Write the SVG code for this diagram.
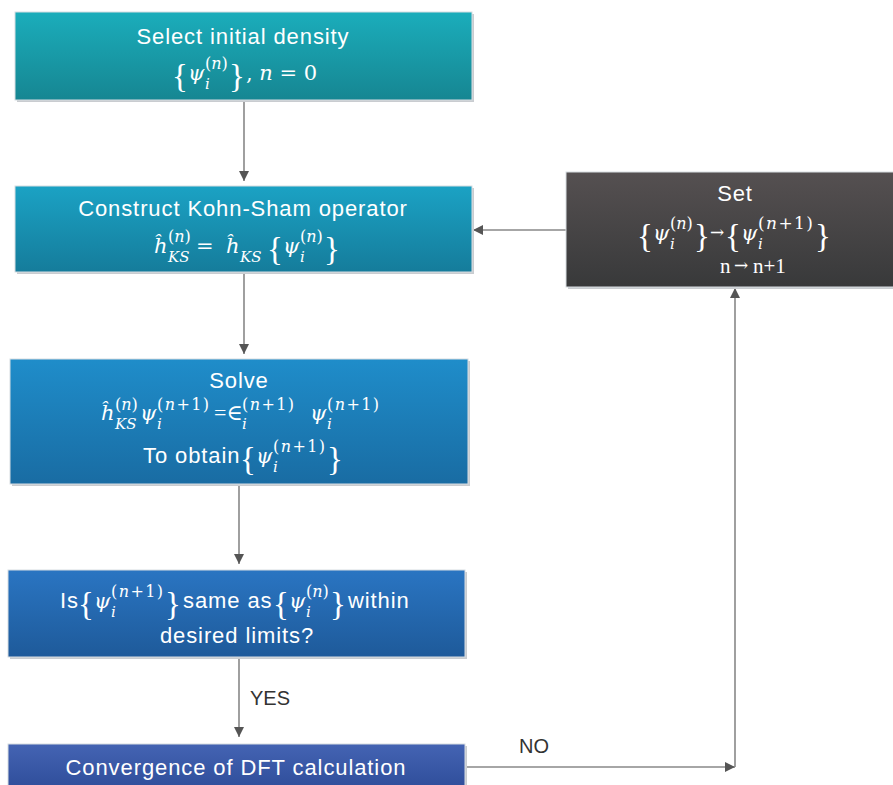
<svg xmlns="http://www.w3.org/2000/svg" width="893" height="785" viewBox="0 0 893 785">
<defs>
<linearGradient id="g1" x1="0" y1="0" x2="0" y2="1"><stop offset="0" stop-color="#1badbb"/><stop offset="1" stop-color="#168692"/></linearGradient>
<linearGradient id="g2" x1="0" y1="0" x2="0" y2="1"><stop offset="0" stop-color="#1ba2c4"/><stop offset="1" stop-color="#157c9b"/></linearGradient>
<linearGradient id="g3" x1="0" y1="0" x2="0" y2="1"><stop offset="0" stop-color="#1f8dca"/><stop offset="1" stop-color="#196ca3"/></linearGradient>
<linearGradient id="g4" x1="0" y1="0" x2="0" y2="1"><stop offset="0" stop-color="#2a75c2"/><stop offset="1" stop-color="#1e5a9a"/></linearGradient>
<linearGradient id="g5" x1="0" y1="0" x2="0" y2="1"><stop offset="0" stop-color="#4464b3"/><stop offset="1" stop-color="#2f4d9a"/></linearGradient>
<linearGradient id="g6" x1="0" y1="0" x2="0" y2="1"><stop offset="0" stop-color="#555051"/><stop offset="1" stop-color="#38393a"/></linearGradient>
<marker id="ah" viewBox="0 0 10 10" refX="10" refY="5" markerWidth="10" markerHeight="10" markerUnits="userSpaceOnUse" orient="auto"><path d="M0,0 L10,5 L0,10 z" fill="#555"/></marker>
</defs>
<style>
.box{stroke:#d8dde2;stroke-width:1}
.sh{fill:#c9ccd0}
.t{font-family:"Liberation Sans",Arial,sans-serif;font-size:22px;letter-spacing:0.9px;fill:#fff}
.m{font-family:"DejaVu Serif","Liberation Serif",serif;font-style:italic;font-size:21px;fill:#fff}
.u{font-style:normal}
.s{font-style:normal;font-size:16px}
.p1{letter-spacing:1.4px}
.si{font-style:italic;font-size:15px}
.br{font-family:"Liberation Serif","DejaVu Serif",serif;font-style:normal;font-size:33px}
.eq{font-family:"Liberation Serif","DejaVu Serif",serif;font-style:normal;font-size:22px}
.i{font-style:italic}
.lbl{font-family:"Liberation Sans",Arial,sans-serif;font-size:20px;fill:#333}
.c{fill:none;stroke:#888;stroke-width:1.6}
</style>

<g id="connectors">
<line class="c" x1="244" y1="100" x2="244" y2="181" marker-end="url(#ah)"/>
<line class="c" x1="244" y1="273" x2="244" y2="354" marker-end="url(#ah)"/>
<line class="c" x1="239" y1="484" x2="239" y2="564" marker-end="url(#ah)"/>
<line class="c" x1="239" y1="658" x2="239" y2="737" marker-end="url(#ah)"/>
<line class="c" x1="566" y1="230" x2="473" y2="230" marker-end="url(#ah)"/>
<line class="c" x1="465" y1="767" x2="735" y2="767" marker-end="url(#ah)"/>
<line class="c" x1="735" y1="767" x2="735" y2="288" marker-end="url(#ah)"/>
<text class="lbl" x="250" y="705">YES</text>
<text class="lbl" x="519" y="753">NO</text>
</g>

<g id="n1">
<rect class="sh" x="17" y="14" width="457" height="88"/>
<rect class="box" x="15" y="12" width="457" height="88" fill="url(#g1)"/>
<text class="t" x="243" y="44" text-anchor="middle">Select initial density</text>
<text class="m"><tspan class="br" x="172" y="87">{</tspan><tspan x="188" y="80">ψ</tspan><tspan class="s" x="205" y="69">(<tspan class="i">n</tspan>)</tspan><tspan class="si" x="205" y="89">i</tspan><tspan class="br" x="229" y="87">}</tspan><tspan class="u" x="246" y="80">, <tspan class="i">n</tspan> = 0</tspan></text>
</g>

<g id="n2">
<rect class="sh" x="17" y="188" width="457" height="86"/>
<rect class="box" x="15" y="186" width="457" height="86" fill="url(#g2)"/>
<text class="t" x="243" y="216" text-anchor="middle">Construct Kohn-Sham operator</text>
<text class="m"><tspan x="154" y="253">ĥ</tspan><tspan class="s" x="168" y="242">(<tspan class="i">n</tspan>)</tspan><tspan class="si" x="168" y="262">KS</tspan><tspan class="u" x="196" y="253">=</tspan><tspan x="226" y="253">ĥ</tspan><tspan class="si" x="240" y="262">KS</tspan><tspan class="br" x="267" y="260">{</tspan><tspan x="283" y="253">ψ</tspan><tspan class="s" x="300" y="242">(<tspan class="i">n</tspan>)</tspan><tspan class="si" x="300" y="262">i</tspan><tspan class="br" x="324" y="260">}</tspan></text>
</g>

<g id="n3">
<rect class="sh" x="12" y="361" width="458" height="125"/>
<rect class="box" x="10" y="359" width="458" height="125" fill="url(#g3)"/>
<text class="t" x="239" y="388" text-anchor="middle">Solve</text>
<text class="m"><tspan x="101" y="420">ĥ</tspan><tspan class="s" x="115" y="410">(<tspan class="i">n</tspan>)</tspan><tspan class="si" x="115" y="429">KS</tspan><tspan x="140" y="420">ψ</tspan><tspan class="s p1" x="157" y="410">(<tspan class="i">n</tspan>+1)</tspan><tspan class="si" x="157" y="429">i</tspan><tspan class="eq" x="214" y="420">=∈</tspan><tspan class="s p1" x="242" y="410">(<tspan class="i">n</tspan>+1)</tspan><tspan class="si" x="242" y="429">i</tspan><tspan x="310" y="420">ψ</tspan><tspan class="s p1" x="327" y="410">(<tspan class="i">n</tspan>+1)</tspan><tspan class="si" x="327" y="429">i</tspan></text>
<text class="t" x="143" y="463">To obtain</text>
<text class="m"><tspan class="br" x="240" y="470">{</tspan><tspan x="256" y="463">ψ</tspan><tspan class="s p1" x="273" y="452">(<tspan class="i">n</tspan>+1)</tspan><tspan class="si" x="273" y="472">i</tspan><tspan class="br" x="327" y="470">}</tspan></text>
</g>

<g id="n4">
<rect class="sh" x="10" y="572" width="457" height="87"/>
<rect class="box" x="8" y="570" width="457" height="87" fill="url(#g4)"/>
<text class="t" x="60" y="608">Is</text>
<text class="m"><tspan class="br" x="78" y="615">{</tspan><tspan x="94" y="608">ψ</tspan><tspan class="s p1" x="111" y="597">(<tspan class="i">n</tspan>+1)</tspan><tspan class="si" x="111" y="617">i</tspan><tspan class="br" x="165" y="615">}</tspan></text>
<text class="t" x="183" y="608">same as</text>
<text class="m"><tspan class="br" x="273" y="615">{</tspan><tspan x="289" y="608">ψ</tspan><tspan class="s" x="306" y="597">(<tspan class="i">n</tspan>)</tspan><tspan class="si" x="306" y="617">i</tspan><tspan class="br" x="330" y="615">}</tspan></text>
<text class="t" x="348" y="608">within</text>
<text class="t" x="237" y="643" text-anchor="middle">desired limits?</text>
</g>

<g id="n5">
<rect class="sh" x="10" y="746" width="457" height="45"/>
<rect class="box" x="8" y="744" width="457" height="45" fill="url(#g5)"/>
<text class="t" x="236" y="775" text-anchor="middle">Convergence of DFT calculation</text>
</g>

<g id="n6">
<rect class="sh" x="568" y="174" width="330" height="115"/>
<rect class="box" x="566" y="172" width="330" height="115" fill="url(#g6)" stroke="#888"/>
<text class="t" x="735" y="201" text-anchor="middle">Set</text>
<text class="m"><tspan class="br" x="637" y="247">{</tspan><tspan x="653" y="240">ψ</tspan><tspan class="s" x="670" y="229">(<tspan class="i">n</tspan>)</tspan><tspan class="si" x="670" y="249">i</tspan><tspan class="br" x="694" y="247">}</tspan><tspan class="u" x="710" y="238" style="font-size:17px">→</tspan><tspan class="br" x="725" y="247">{</tspan><tspan x="741" y="240">ψ</tspan><tspan class="s p1" x="758" y="229" style="font-size:17px">(<tspan class="i">n</tspan>+1)</tspan><tspan class="si" x="758" y="249">i</tspan><tspan class="br" x="815" y="247">}</tspan></text>
<text class="m u" style="font-family:'Liberation Serif','DejaVu Serif',serif;font-size:21px"><tspan x="720" y="273">n</tspan><tspan x="734" y="271" style="font-family:'DejaVu Serif',serif;font-size:17px">→</tspan><tspan x="753" y="273">n+1</tspan></text>
</g>
</svg>
